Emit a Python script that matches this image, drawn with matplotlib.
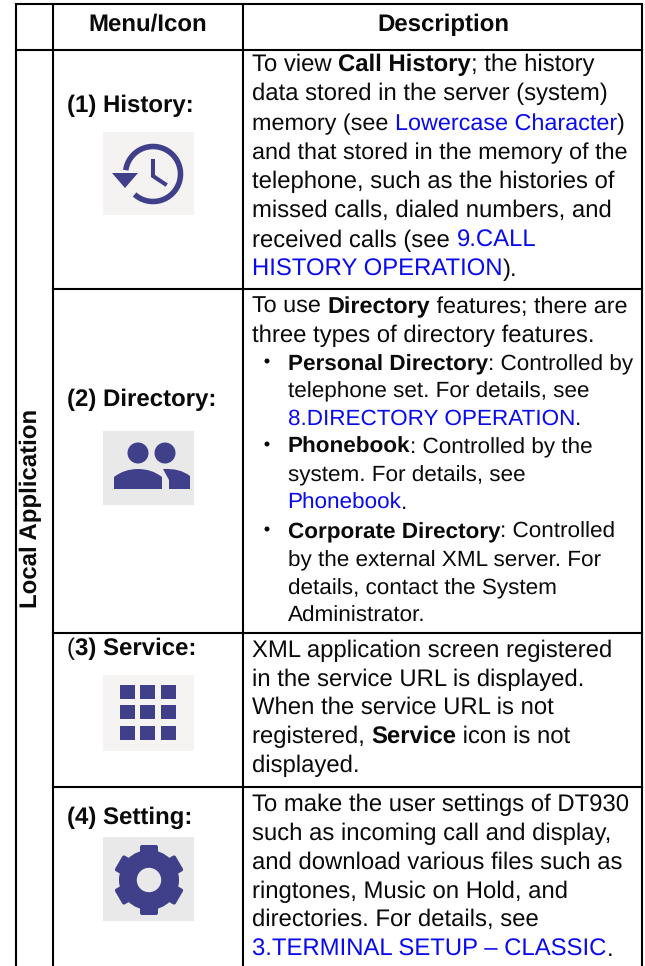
import numpy as np
import matplotlib
matplotlib.use("Agg")
import matplotlib.pyplot as plt
from matplotlib.patches import Rectangle, Circle, Polygon, PathPatch, FancyBboxPatch
from matplotlib.path import Path
from matplotlib.transforms import Affine2D

plt.rcParams['font.family'] = ['Liberation Sans', 'DejaVu Sans']
plt.rcParams['text.hinting'] = 'no_hinting'
plt.rcParams['text.hinting_factor'] = 8

# ---------- content ----------
header = ["Menu/Icon", "Description"]
side_label = "Local Application"
menu_labels = [[("(1) History:", "b")], [("(2) Directory:", "b")],
               [("(", "r"), ("3) Service:", "b")], [("(4) Setting:", "b")]]
B, R, L = "b", "r", "l"
row1 = [[("To view ", R), ("Call History", B), ("; the history", R)],
        [("data stored in the server (system)", R)],
        [("memory (see ", R), ("Lowercase Character", L), (")", R)],
        [("and that stored in the memory of the", R)],
        [("telephone, such as the histories of", R)],
        [("missed calls, dialed numbers, and", R)],
        [("received calls (see ", R), ("9.CALL", L)],
        [("HISTORY OPERATION", L), (").", R)]]
row2 = [[("To use ", R), ("Directory", B), (" features; there are", R)],
        [("three types of directory features.", R)],
        [("Personal Directory", B), (": Controlled by", R)],
        [("telephone set. For details, see", R)],
        [("8.DIRECTORY OPERATION", L), (".", R)],
        [("Phonebook", B), (": Controlled by the", R)],
        [("system. For details, see", R)],
        [("Phonebook", L), (".", R)],
        [("Corporate Directory", B), (": Controlled", R)],
        [("by the external XML server. For", R)],
        [("details, contact the System", R)],
        [("Administrator.", R)]]
row3 = [[("XML application screen registered", R)],
        [("in the service URL is displayed.", R)],
        [("When the service URL is not", R)],
        [("registered, ", R), ("Service", B), (" icon is not", R)],
        [("displayed.", R)]]
row4 = [[("To make the user settings of DT930", R)],
        [("such as incoming call and display,", R)],
        [("and download various files such as", R)],
        [("ringtones, Music on Hold, and", R)],
        [("directories. For details, see", R)],
        [("3.TERMINAL SETUP \u2013 CLASSIC", L), (".", R)]]

# ---------- layout (pixels) ----------
W, H = 645, 966
FS = 17.2
FS_TIGHT = 16.85
FS_HEAD = 17.25
FS_BULLET = 16.2
LINK = "#0a0aee"
INK = "#0a0a0a"
ICON = "#3f3f8a"
row1_y = [71, 100, 130, 159, 188, 217, 247, 276]
row1_fs = [FS, FS, FS_TIGHT, FS_TIGHT, FS, FS, FS, FS]
row2_y = [313, 342, 370, 397, 425, 453, 481, 509, 538, 566, 594, 622]
row2_fs = [FS_TIGHT, FS] + [FS_BULLET] * 10
row3_y = [657, 686, 714, 743, 772]
row4_y = [811, 840, 869, 898, 926, 956]
row2_x = [252, 252, 287.5, 287.5, 287.5, 287.5, 287.5, 287.5, 287.5, 287.5, 287.5, 287.5]
bullet_rows = [2, 5, 8]
menu_y = [112, 406, 655, 824]
menu_x = [67, 67, 67, 67]

fig = plt.figure(figsize=(W / 100, H / 100), dpi=100)
ax = fig.add_axes([0, 0, 1, 1])
ax.set_xlim(0, W)
ax.set_ylim(H, 0)
ax.axis("off")

rend = fig.canvas.get_renderer()
STY = {"b": dict(fontweight="bold", color=INK), "r": dict(color=INK), "l": dict(color=LINK)}

def runs(x, y, parts, fs=FS):
    for txt, st in parts:
        ax.text(x, y, txt, fontsize=fs, va="baseline", ha="left", **STY[st])
        a = ax.text(0, 0, "x" + txt + "x", fontsize=fs, **STY[st])
        b = ax.text(0, 0, "xx", fontsize=fs, **STY[st])
        x += a.get_window_extent(rend).width - b.get_window_extent(rend).width
        a.remove(); b.remove()

# ---------- grid ----------
lw = 1.5
for xx in (15.5, 53, 243, 642):
    ax.plot([xx, xx], [4, H], color="black", lw=lw, solid_capstyle="butt")
for yy, x0 in ((4, 15.5), (49.5, 15.5), (288.5, 53), (633, 53), (787, 53)):
    ax.plot([x0, 642], [yy, yy], color="black", lw=lw, solid_capstyle="projecting")

# ---------- headers ----------
ax.text(147.5, 31, header[0], fontsize=FS_HEAD, fontweight="bold", ha="center", va="baseline", color=INK)
ax.text(443, 31, header[1], fontsize=FS_HEAD, fontweight="bold", ha="center", va="baseline", color=INK)
ax.text(31, 508, side_label, fontsize=FS_HEAD, fontweight="bold", rotation=90, ha="center", va="center", color=INK)

# ---------- menu labels ----------
for x, y, parts in zip(menu_x, menu_y, menu_labels):
    runs(x, y, parts, fs=FS_HEAD)

# ---------- descriptions ----------
for y, f, parts in zip(row1_y, row1_fs, row1):
    runs(252, y, parts, fs=f)
for i, (x, y, f, parts) in enumerate(zip(row2_x, row2_y, row2_fs, row2)):
    runs(x, y, parts, fs=f)
    if i in bullet_rows:
        ax.add_patch(Circle((267, y - 9), 2.5, color=INK, lw=0))
for y, parts in zip(row3_y, row3):
    runs(252, y, parts)
for y, parts in zip(row4_y, row4):
    runs(252, y, parts)

# ---------- icons ----------
for (y0, y1, c) in ((132, 215, "#f5f3f2"), (431, 505, "#e9e9e9"), (675, 751, "#f5f4f2"), (837, 921, "#e9e9e9")):
    ax.add_patch(Rectangle((103, y0), 91, y1 - y0, color=c, lw=0))

# history (y axis inverted: angles measured clockwise on screen)
cx, cy = 153, 174
ang = np.radians(np.linspace(-172, 132, 120))
ax.plot(cx + 27.5 * np.cos(ang), cy + 27.5 * np.sin(ang), color=ICON, lw=4, solid_capstyle="butt")
ax.add_patch(Polygon([(112, 173), (138, 173), (125, 188)], color=ICON, lw=0))
ax.plot([153, 153, 165], [161, 176, 184], color=ICON, lw=2.9, solid_joinstyle="miter")

# directory
ax.add_patch(Circle((138, 453), 10.5, color=ICON, lw=0))
ax.add_patch(Circle((165, 453), 10.5, color=ICON, lw=0))
left = Path([(114, 489), (114, 477), (124, 469), (138, 469), (152, 469), (162, 477), (162, 489), (114, 489)],
            [Path.MOVETO, Path.LINETO, Path.CURVE3, Path.CURVE3, Path.CURVE3, Path.CURVE3, Path.LINETO, Path.CLOSEPOLY])
ax.add_patch(PathPatch(left, color=ICON, lw=0))
right = Path([(169, 489), (169, 480), (163, 469), (180, 468), (190, 476), (190, 489), (169, 489)],
             [Path.MOVETO, Path.LINETO, Path.LINETO, Path.CURVE3, Path.CURVE3, Path.LINETO, Path.CLOSEPOLY])
ax.add_patch(PathPatch(right, color=ICON, lw=0))

# service
for sx in (120, 140, 161):
    for sy in (685, 705, 726):
        ax.add_patch(Rectangle((sx, sy), 14.5, 14, color=ICON, lw=0))

# gear
gx, gy = 149, 880
ax.add_patch(Circle((gx, gy), 30, color=ICON, lw=0))
for a in range(0, 360, 60):
    tr = Affine2D().rotate_deg(a).translate(gx, gy) + ax.transData
    ax.add_patch(FancyBboxPatch((-9, -35), 18, 20, boxstyle="round,pad=0,rounding_size=2", color=ICON, lw=0, transform=tr))
ax.add_patch(Circle((gx, gy), 12.2, color="#e9e9e9", lw=0))

fig.savefig("out.png", dpi=100)
